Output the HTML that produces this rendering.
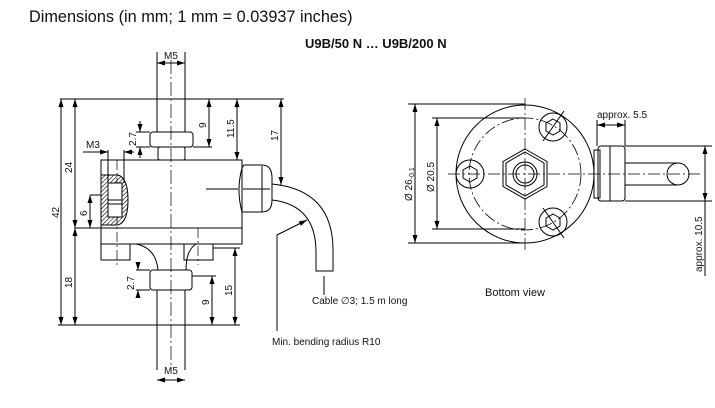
<!DOCTYPE html>
<html><head><meta charset="utf-8"><style>
html,body{margin:0;padding:0;background:#fff;}
svg{display:block;font-family:"Liberation Sans",sans-serif;}
</style></head><body>
<svg width="715" height="408" viewBox="0 0 715 408" xmlns="http://www.w3.org/2000/svg">
<defs>
<marker id="a" markerWidth="8" markerHeight="6" refX="8" refY="3" orient="auto-start-reverse" markerUnits="userSpaceOnUse"><path d="M0,0.5 L8,3 L0,5.5Z" fill="#000"/></marker>
<pattern id="h" width="3" height="3" patternUnits="userSpaceOnUse" patternTransform="rotate(45)"><line x1="0" y1="0" x2="0" y2="3" stroke="#000" stroke-width="1.2"/></pattern>
</defs>
<text x="29" y="22" font-size="16.3" fill="#111">Dimensions (in mm; 1 mm = 0.03937 inches)</text>
<text x="305" y="48" font-size="13" font-weight="bold" fill="#111">U9B/50 N … U9B/200 N</text>

<g stroke="#000" stroke-width="1" fill="none">
<line x1="157" y1="52" x2="157" y2="132"/><line x1="185" y1="52" x2="185" y2="132"/>
<line x1="157" y1="63" x2="185" y2="63" marker-start="url(#a)" marker-end="url(#a)"/>
<line x1="60" y1="99" x2="284" y2="99"/>
<rect x="150" y="132" width="43" height="15" rx="3"/>
<rect x="158" y="147" width="27" height="13" rx="2"/>
<rect x="101" y="160" width="141" height="84"/>
<line x1="75" y1="228" x2="242" y2="228"/>
<path d="M101,244 V260 H130 V244"/>
<path d="M184,244 V260 H213 V244"/>
<path d="M136,244 Q156,248 158,270 M186,270 Q186,250 196,244"/>
<rect x="150" y="270" width="42" height="20" rx="3"/>
<line x1="157" y1="290" x2="157" y2="370"/><line x1="185" y1="290" x2="185" y2="370"/>
<line x1="157" y1="380" x2="185" y2="380" marker-start="url(#a)" marker-end="url(#a)"/>
<line x1="58" y1="325" x2="240" y2="325"/>
<line x1="171" y1="60" x2="171" y2="370" stroke-dasharray="14,3,2,3" stroke-width="0.7"/>
<line x1="117" y1="160" x2="117" y2="265" stroke-dasharray="10,3,2,3" stroke-width="0.7"/>
<line x1="198" y1="228" x2="198" y2="265" stroke-dasharray="10,3,2,3" stroke-width="0.7"/>
<line x1="206" y1="189" x2="238" y2="189"/>
<path d="M101,175 H118 Q128,178 128,200 Q128,222 118,225 H101Z" fill="url(#h)"/>
<rect x="108" y="183" width="14" height="34" fill="#fff"/>
<line x1="108" y1="200" x2="122" y2="200"/>
<line x1="108" y1="204" x2="122" y2="204"/>
<line x1="108" y1="150" x2="108" y2="183"/><line x1="124" y1="150" x2="124" y2="183"/>
<line x1="83" y1="152" x2="108" y2="152" marker-end="url(#a)"/><line x1="134" y1="152" x2="124" y2="152" marker-end="url(#a)"/>
<path d="M242,168 Q236,190 242,212 H262 Q272,212 272,200 V178 Q272,165 262,165 H244Z"/>
<line x1="243" y1="189" x2="270" y2="189"/><line x1="262" y1="166" x2="262" y2="212"/>
<path d="M272,184 Q333,190 333,250 V271 H316 V252 Q316,205 272,200"/>
<line x1="324" y1="276" x2="324" y2="295"/>
<line x1="277" y1="331" x2="277" y2="235"/><line x1="277" y1="235" x2="307" y2="220" marker-end="url(#a)"/>
<line x1="61" y1="99" x2="61" y2="325" marker-start="url(#a)" marker-end="url(#a)"/>
<line x1="75" y1="99" x2="75" y2="228" marker-start="url(#a)" marker-end="url(#a)"/>
<line x1="75" y1="228" x2="75" y2="325" marker-start="url(#a)" marker-end="url(#a)"/>
<line x1="90" y1="195" x2="101" y2="195"/>
<line x1="90" y1="195" x2="90" y2="228" marker-start="url(#a)" marker-end="url(#a)"/>
<line x1="209" y1="99" x2="209" y2="147" marker-start="url(#a)" marker-end="url(#a)"/>
<line x1="193" y1="147" x2="212" y2="147"/>
<line x1="237" y1="99" x2="237" y2="160" marker-start="url(#a)" marker-end="url(#a)"/>
<line x1="281" y1="99" x2="281" y2="185" marker-start="url(#a)" marker-end="url(#a)"/>
<line x1="136" y1="132" x2="150" y2="132"/><line x1="136" y1="147" x2="150" y2="147"/>
<line x1="140" y1="121" x2="140" y2="132" marker-end="url(#a)"/><line x1="140" y1="158" x2="140" y2="147" marker-end="url(#a)"/>
<line x1="136" y1="270" x2="150" y2="270"/><line x1="136" y1="290" x2="150" y2="290"/>
<line x1="138" y1="263" x2="138" y2="270" marker-end="url(#a)"/><line x1="138" y1="298" x2="138" y2="290" marker-end="url(#a)"/>
<line x1="192" y1="276" x2="216" y2="276"/>
<line x1="212" y1="276" x2="212" y2="325" marker-start="url(#a)" marker-end="url(#a)"/>
<line x1="213" y1="248" x2="240" y2="248"/>
<line x1="235" y1="248" x2="235" y2="325" marker-start="url(#a)" marker-end="url(#a)"/>

<circle cx="525" cy="174" r="69"/>
<circle cx="525" cy="174" r="56" stroke-dasharray="12,3,2,3" stroke-width="0.8"/>
<polygon points="525,149 547,161.5 547,186.5 525,199 503,186.5 503,161.5"/>
<polygon points="525,152 544,163 544,185 525,196 506,185 506,163"/>
<circle cx="525" cy="174" r="12"/><circle cx="525" cy="174" r="9"/>
<circle cx="553" cy="127" r="14"/><polygon points="553,119 560,123 560,131 553,135 546,131 546,123"/>
<circle cx="470" cy="174" r="14"/><polygon points="470,166 477,170 477,178 470,182 463,178 463,170"/>
<circle cx="553" cy="222" r="14"/><polygon points="553,214 560,218 560,226 553,230 546,226 546,218"/>
<line x1="543" y1="141" x2="564" y2="111"/><line x1="543" y1="208" x2="564" y2="238"/>
<line x1="525" y1="98" x2="525" y2="252" stroke-dasharray="12,3,2,3" stroke-width="0.7"/>
<line x1="448" y1="174" x2="700" y2="174" stroke-dasharray="12,3,2,3" stroke-width="0.7"/>
<line x1="408" y1="104" x2="525" y2="104"/><line x1="408" y1="243" x2="525" y2="243"/>
<line x1="415" y1="104" x2="415" y2="243" marker-start="url(#a)" marker-end="url(#a)"/>
<line x1="432" y1="118" x2="525" y2="118"/><line x1="432" y1="229" x2="525" y2="229"/>
<line x1="437" y1="118" x2="437" y2="229" marker-start="url(#a)" marker-end="url(#a)"/>
<rect x="594" y="150" width="6" height="48"/>
<rect x="598" y="146" width="27" height="55" rx="3"/>
<line x1="610" y1="146" x2="610" y2="201"/>
<path d="M625,163 H678 M625,185 H678"/>
<circle cx="678" cy="174" r="11"/>
<line x1="597" y1="120" x2="597" y2="146"/><line x1="625" y1="120" x2="625" y2="146"/>
<line x1="597" y1="125" x2="625" y2="125" marker-start="url(#a)" marker-end="url(#a)"/>
<line x1="625" y1="146" x2="712" y2="146"/><line x1="625" y1="201" x2="712" y2="201"/>
<line x1="705" y1="146" x2="705" y2="201" marker-start="url(#a)" marker-end="url(#a)"/>
<line x1="705" y1="201" x2="705" y2="276"/>
</g>

<g font-size="10" fill="#111">
<text x="164" y="59">M5</text>
<text x="164" y="374">M5</text>
<text x="86" y="148">M3</text>
<text x="597" y="118">approx. 5.5</text>
<text x="312" y="304">Cable ∅3; 1.5 m long</text>
<text x="272" y="345">Min. bending radius R10</text>
<text x="485" y="296" font-size="11">Bottom view</text>
<text transform="translate(59,218) rotate(-90)">42</text>
<text transform="translate(72,173) rotate(-90)">24</text>
<text transform="translate(72,288) rotate(-90)">18</text>
<text transform="translate(87,216) rotate(-90)">6</text>
<text transform="translate(136,146) rotate(-90)">2.7</text>
<text transform="translate(134,290) rotate(-90)">2.7</text>
<text transform="translate(206,128) rotate(-90)">9</text>
<text transform="translate(209,305) rotate(-90)">9</text>
<text transform="translate(234,138) rotate(-90)">11.5</text>
<text transform="translate(232,296) rotate(-90)">15</text>
<text transform="translate(278,141) rotate(-90)">17</text>
<text transform="translate(412,201) rotate(-90)">Ø 26<tspan font-size="7" dy="2">-0.1</tspan></text>
<text transform="translate(434,192) rotate(-90)">Ø 20.5</text>
<text transform="translate(702,272) rotate(-90)">approx. 10.5</text>
</g>
</svg>
</body></html>
